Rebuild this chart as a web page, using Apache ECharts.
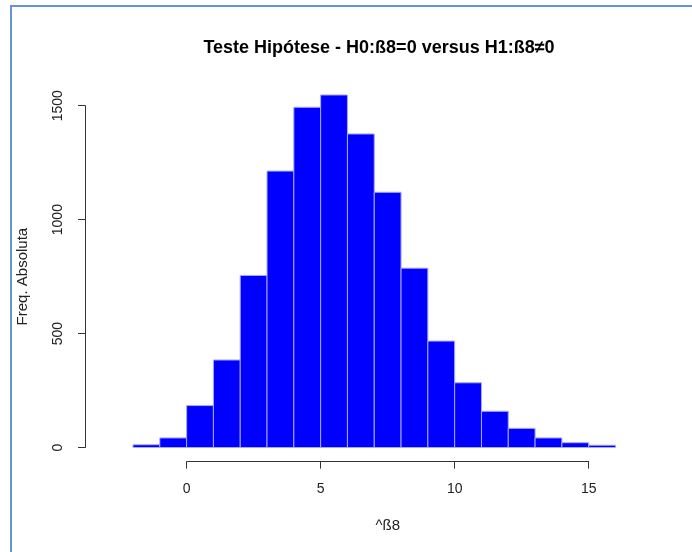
<!DOCTYPE html>
<html>
<head>
<meta charset="utf-8">
<script src="https://cdn.jsdelivr.net/npm/echarts@6/dist/echarts.min.js"></script>
<style>
  html, body { margin: 0; padding: 0; background: #fff; }
  #frame {
    position: absolute; left: 10px; top: 5px; right: -4px; bottom: -4px;
    border-left: 2px solid #6893d3; border-top: 2px solid #6893d3;
  }
  #chart { position: absolute; left: 0; top: 0; width: 692px; height: 552px; }
</style>
</head>
<body>
<div id="frame"></div>
<div id="chart"></div>
<script>
// histogram bins (left edges, width 1) and frequencies
const binStarts = [-2, -1, 0, 1, 2, 3, 4, 5, 6, 7, 8, 9, 10, 11, 12, 13, 14, 15];
const binWidth = 1;
const counts = [12, 42, 184, 384, 755, 1213, 1493, 1547, 1376, 1120, 787, 467, 284, 159, 84, 42, 21, 10];
const xTicks = [0, 5, 10, 15];
const yTicks = [0, 500, 1000, 1500];

const chart = echarts.init(document.getElementById('chart'));

const font = 'Liberation Sans, Arial, sans-serif';
const seriesData = binStarts.map((s, i) => [s, s + binWidth, counts[i]]);

const options = {
  animation: false,
  title: {
    text: 'Teste Hipótese - H0:ß8=0 versus H1:ß8≠0',
    left: 374,
    top: 34,
    textAlign: 'center',
    textStyle: { fontFamily: font, fontSize: 18, fontWeight: 'bold', color: '#000' }
  },
  grid: [
    // data region
    { left: 133, right: 76.5, top: 82.9, bottom: 104.5 },
    // x axis (0..15)
    { left: 186.7, right: 103.3, top: 451.7, height: 10 },
    // y axis (0..1500)
    { left: 85, width: 10, top: 105.7, bottom: 104.5 }
  ],
  xAxis: [
    { gridIndex: 0, type: 'value', min: -2, max: 16, show: false },
    {
      gridIndex: 1, type: 'value', min: xTicks[0], max: xTicks[xTicks.length - 1], interval: 5,
      position: 'bottom',
      name: '^ß8', nameLocation: 'middle', nameGap: 57,
      nameTextStyle: { fontFamily: font, fontSize: 15, color: '#222' },
      axisLine: { show: true, lineStyle: { color: '#333', width: 1 } },
      axisTick: { show: true, length: 7, lineStyle: { color: '#333' } },
      axisLabel: { margin: 20, fontFamily: font, fontSize: 14, color: '#222' },
      splitLine: { show: false }
    },
    { gridIndex: 2, type: 'value', show: false }
  ],
  yAxis: [
    { gridIndex: 0, type: 'value', min: 0, max: 1600, show: false },
    { gridIndex: 1, type: 'value', show: false },
    {
      gridIndex: 2, type: 'value', min: yTicks[0], max: yTicks[yTicks.length - 1], interval: 500,
      position: 'left',
      name: 'Freq. Absoluta', nameLocation: 'middle', nameGap: 55, nameRotate: 90,
      nameTextStyle: { fontFamily: font, fontSize: 15, color: '#222' },
      axisLine: { show: true, lineStyle: { color: '#333', width: 1 } },
      axisTick: { show: true, length: 7, lineStyle: { color: '#333' } },
      axisLabel: {
        rotate: 90, margin: 20, fontFamily: font, fontSize: 14, color: '#222',
        formatter: function (v) { return String(v); }
      },
      splitLine: { show: false }
    }
  ],
  series: [{
    type: 'custom',
    xAxisIndex: 0,
    yAxisIndex: 0,
    data: seriesData,
    renderItem: function (params, api) {
      const p0 = api.coord([api.value(0), api.value(2)]);
      const p1 = api.coord([api.value(1), 0]);
      return {
        type: 'rect',
        shape: { x: p0[0], y: p0[1], width: p1[0] - p0[0], height: p1[1] - p0[1] },
        style: { fill: '#0000ff', stroke: '#a8a8ff', lineWidth: 1 }
      };
    }
  }]
};

chart.setOption(options);
</script>
</body>
</html>
